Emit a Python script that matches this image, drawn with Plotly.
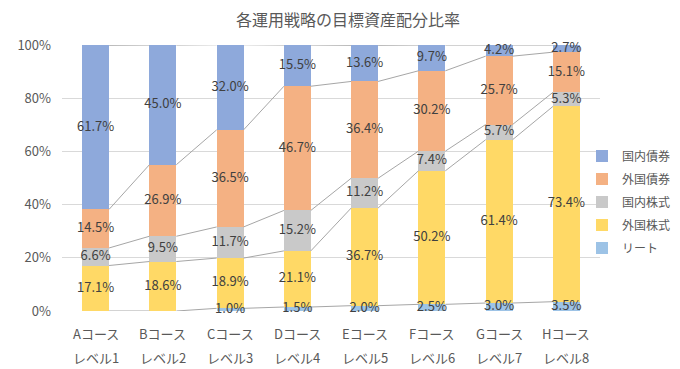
import plotly.graph_objects as go

courses = ["Aコース", "Bコース", "Cコース", "Dコース", "Eコース", "Fコース", "Gコース", "Hコース"]
levels = ["レベル1", "レベル2", "レベル3", "レベル4", "レベル5", "レベル6", "レベル7", "レベル8"]

reit = [0.0, 0.0, 1.0, 1.5, 2.0, 2.5, 3.0, 3.5]
foreign_stock = [17.1, 18.6, 18.9, 21.1, 36.7, 50.2, 61.4, 73.4]
domestic_stock = [6.6, 9.5, 11.7, 15.2, 11.2, 7.4, 5.7, 5.3]
foreign_bond = [14.5, 26.9, 36.5, 46.7, 36.4, 30.2, 25.7, 15.1]
domestic_bond = [61.7, 45.0, 32.0, 15.5, 13.6, 9.7, 4.2, 2.7]

y_ticks = [0, 20, 40, 60, 80, 100]
y_tick_text = ["0%", "20%", "40%", "60%", "80%", "100%"]

series = [
    ("リート", reit, "#9DC3E6"),
    ("外国株式", foreign_stock, "#FFD966"),
    ("国内株式", domestic_stock, "#C9C9C9"),
    ("外国債券", foreign_bond, "#F4B183"),
    ("国内債券", domestic_bond, "#8EA9DB"),
]

FONT = "Noto Sans CJK JP"
BAR_W = 0.4
xs = list(range(len(courses)))

# page body has an 8px default margin; figure is offset by 8px, so lay it out
# in its own coordinates (anything beyond the window is simply cropped)
W, H = 680, 369

fig = go.Figure()

base = [0.0] * len(xs)
label_x, label_y, label_t = [], [], []
line_x, line_y = [], []
for k, (name, vals, color) in enumerate(series):
    fig.add_trace(go.Bar(
        x=xs, y=vals, name=name, marker=dict(color=color, line=dict(width=0)),
        width=BAR_W, hoverinfo="skip", legendgroup=name,
        legendrank=100 - k,
    ))
    tops = [b + v for b, v in zip(base, vals)]
    for i, (b, v) in enumerate(zip(base, vals)):
        if v > 0:
            label_x.append(i)
            label_y.append(b + v / 2)
            label_t.append(f"{v:.1f}%")
    for i in range(len(xs) - 1):
        line_x += [i + BAR_W / 2, i + 1 - BAR_W / 2, None]
        line_y += [tops[i], tops[i + 1], None]
    base = tops

fig.add_trace(go.Scatter(
    x=line_x, y=line_y, mode="lines", line=dict(color="#A6A6A6", width=1),
    showlegend=False, hoverinfo="skip", cliponaxis=False,
))
fig.add_trace(go.Scatter(
    x=label_x, y=label_y, text=label_t, mode="text",
    textfont=dict(family=FONT, size=13, color="#404040"),
    showlegend=False, hoverinfo="skip", cliponaxis=False,
))

annotations = []
for i in xs:
    annotations.append(dict(x=i, y=0, xref="x", yref="paper", text=courses[i], showarrow=False,
                            yanchor="middle", yshift=-22,
                            font=dict(family=FONT, size=13, color="#595959")))
    annotations.append(dict(x=i, y=0, xref="x", yref="paper", text=levels[i], showarrow=False,
                            yanchor="middle", yshift=-46,
                            font=dict(family=FONT, size=13, color="#595959")))

fig.update_layout(
    width=W, height=H,
    margin=dict(l=54, r=88, t=37, b=66, autoexpand=False),
    barmode="stack",
    paper_bgcolor="white", plot_bgcolor="white",
    title=dict(text="各運用戦略の目標資産配分比率", x=340 / W, xanchor="center",
               y=1 - 12 / H, yanchor="middle",
               font=dict(family=FONT, size=16, color="#595959")),
    xaxis=dict(range=[-0.5, 7.5], showticklabels=False, showgrid=False, zeroline=False,
               showline=False, fixedrange=True),
    yaxis=dict(range=[0, 100], tickmode="array", tickvals=y_ticks, ticktext=y_tick_text,
               showgrid=True, gridcolor="#D9D9D9", gridwidth=1, zeroline=False,
               showline=False, ticklabelstandoff=10,
               tickfont=dict(family=FONT, size=13, color="#595959")),
    legend=dict(traceorder="grouped", xref="container", yref="container",
                x=574 / W, xanchor="left", y=1 - 194 / H, yanchor="middle",
                font=dict(family=FONT, size=12, color="#595959"),
                itemwidth=30, tracegroupgap=4, bgcolor="rgba(0,0,0,0)"),
    annotations=annotations,
    showlegend=True,
)

fig.write_html("out.html")
